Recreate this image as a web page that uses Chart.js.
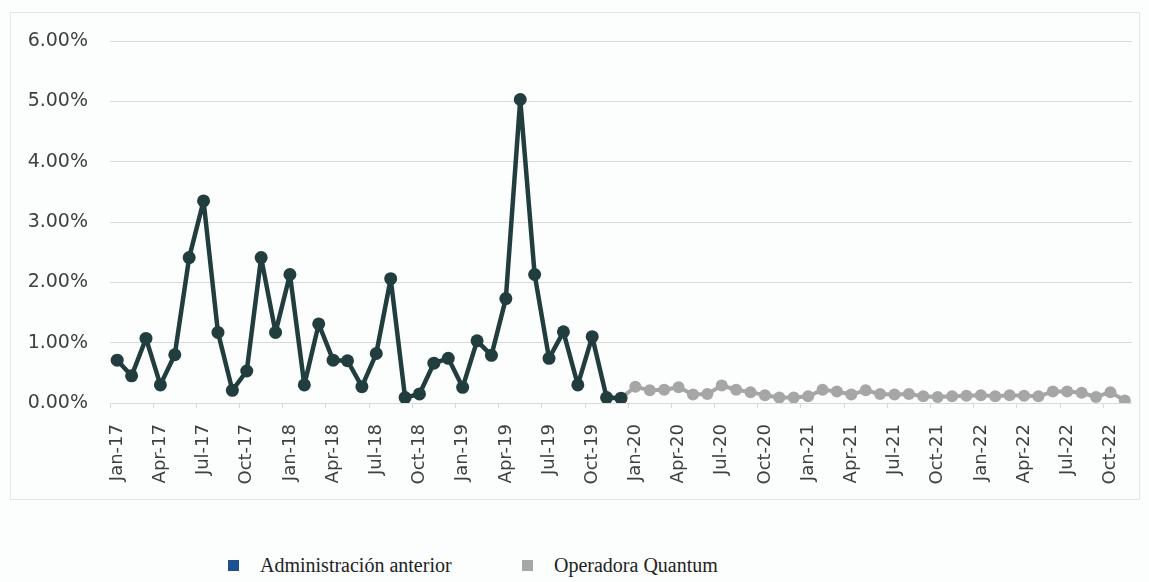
<!DOCTYPE html>
<html>
<head>
<meta charset="utf-8">
<script src="https://cdn.jsdelivr.net/npm/chart.js@4.4.1/dist/chart.umd.min.js"></script>
<style>
    body { margin: 0; background: #fcfdfd; width: 1149px; height: 582px; position: relative; overflow: hidden; }
    #frame { position: absolute; left: 10px; top: 12px; width: 1128px; height: 486px; border: 1px solid #e3e6e6; }
    #legend { position: absolute; top: 552px; left: 0; width: 1149px; height: 30px; font-family: "Liberation Serif", serif; font-size: 20px; color: #222; }
    .item { position: absolute; top: 2px; white-space: nowrap; }
    .box { position: absolute; top: 8px; width: 11px; height: 11px; }
</style>
</head>
<body>
<div id="frame"><canvas id="rateChart"></canvas></div>
<div id="legend"></div>

<script>
const MONTHS = ["Jan", "Feb", "Mar", "Apr", "May", "Jun", "Jul", "Aug", "Sep", "Oct", "Nov", "Dec"];
const YEARS = ["17", "18", "19", "20", "21", "22"];
const N_POINTS = 71; // Jan-17 .. Nov-22

// monthly rate, %
const ADMIN_ANTERIOR = [
    0.71, 0.45, 1.07, 0.30, 0.80, 2.41, 3.35, 1.17, 0.21, 0.53, 2.41, 1.17,
    2.13, 0.30, 1.31, 0.71, 0.70, 0.27, 0.82, 2.06, 0.09, 0.15, 0.66, 0.74,
    0.26, 1.03, 0.79, 1.73, 5.03, 2.13, 0.74, 1.18, 0.30, 1.10, 0.09, 0.08
];
const QUANTUM = [
    0.27, 0.21, 0.22, 0.26, 0.14, 0.15, 0.29, 0.22, 0.18, 0.13, 0.09, 0.09,
    0.11, 0.22, 0.19, 0.14, 0.21, 0.15, 0.14, 0.15, 0.11, 0.10, 0.11, 0.12,
    0.13, 0.11, 0.13, 0.12, 0.11, 0.19, 0.19, 0.17, 0.10, 0.18, 0.04
];

const SERIES_NAMES = ["Administración anterior", "Operadora Quantum"];
const LINE_COLORS = ["#213d3e", "#a6a6a6"];
const LEGEND_COLORS = ["#1d4f91", "#a6a6a6"];

const labels = [];
YEARS.forEach(y => MONTHS.forEach(m => labels.push(`${m}-${y}`)));
labels.length = N_POINTS;

// first series fills the left part, the second picks up from its last month
const darkData = labels.map((_, i) => i < ADMIN_ANTERIOR.length ? ADMIN_ANTERIOR[i] : null);
const joinIdx = ADMIN_ANTERIOR.length - 1;
const grayData = labels.map((_, i) => {
    if (i === joinIdx) return ADMIN_ANTERIOR[joinIdx];
    if (i > joinIdx) return QUANTUM[i - joinIdx - 1];
    return null;
});
const grayRadius = labels.map((_, i) => i === joinIdx ? 0 : 6);

const ctx = document.getElementById("rateChart").getContext("2d");

const rateChart = new Chart(ctx, {
    type: "line",
    data: {
        labels: labels,
        datasets: [{
            label: SERIES_NAMES[0],
            data: darkData,
            borderColor: LINE_COLORS[0],
            backgroundColor: LINE_COLORS[0],
            borderWidth: 4.5,
            borderJoinStyle: "round",
            pointRadius: 6.5,
            pointBorderWidth: 0,
            tension: 0
        }, {
            label: SERIES_NAMES[1],
            data: grayData,
            borderColor: LINE_COLORS[1],
            backgroundColor: LINE_COLORS[1],
            borderWidth: 4,
            borderJoinStyle: "round",
            pointRadius: grayRadius,
            pointBorderWidth: 0,
            tension: 0
        }]
    },
    options: {
        responsive: true,
        maintainAspectRatio: false,
        animation: false,
        layout: { padding: { top: 28, right: 7, left: 0, bottom: 0 } },
        plugins: {
            legend: { display: false },
            tooltip: { enabled: false }
        },
        scales: {
            x: {
                offset: true,
                grid: {
                    offset: true,
                    drawOnChartArea: false,
                    drawTicks: true,
                    tickLength: 5,
                    color: (c) => c.index % 3 === 0 ? "#d9d9d9" : "rgba(0,0,0,0)"
                },
                border: { display: false },
                ticks: {
                    autoSkip: false,
                    minRotation: 90,
                    maxRotation: 90,
                    padding: 16,
                    color: "#404040",
                    font: { family: "DejaVu Sans", size: 18 },
                    callback: (v, i) => i % 3 === 0 ? labels[i] : ""
                },
                afterFit: (scale) => {
                    scale.height = 96;
                    scale.paddingLeft = 0;
                    scale.paddingRight = 0;
                }
            },
            y: {
                min: 0,
                max: 6,
                ticks: {
                    stepSize: 1,
                    padding: 22,
                    color: "#404040",
                    font: { family: "DejaVu Sans", size: 19 },
                    callback: (v) => v.toFixed(2) + "%"
                },
                grid: { color: "#d9d9d9", lineWidth: 1, drawTicks: false },
                border: { display: false },
                afterFit: (scale) => {
                    scale.width = 99;
                    scale.paddingTop = 0;
                    scale.paddingBottom = 0;
                }
            }
        }
    }
});

// legend sits outside the framed plot
const legendBox = document.getElementById("legend");
const legendX = [228, 522];
SERIES_NAMES.forEach((name, i) => {
    const box = document.createElement("div");
    box.className = "box";
    box.style.left = legendX[i] + "px";
    box.style.background = LEGEND_COLORS[i];
    legendBox.appendChild(box);
    const txt = document.createElement("div");
    txt.className = "item";
    txt.style.left = (legendX[i] + 32) + "px";
    txt.textContent = name;
    legendBox.appendChild(txt);
});
</script>
</body>
</html>
